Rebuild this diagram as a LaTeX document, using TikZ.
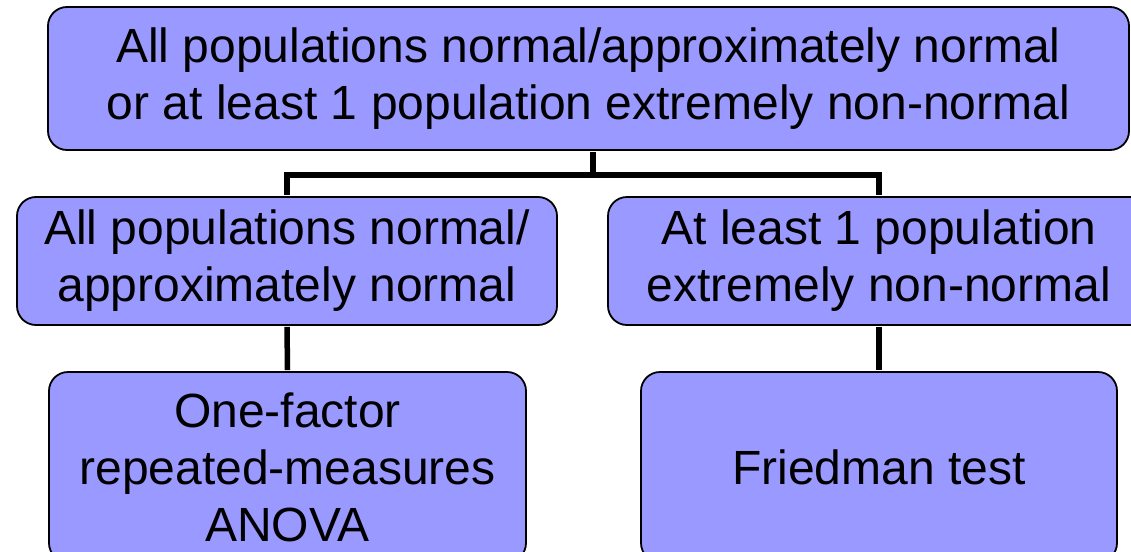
\documentclass[tikz,border=0pt]{standalone}
\usepackage{fontspec}
\setmainfont{Liberation Sans}
\begin{document}
\begin{tikzpicture}[x=1pt,y=-1pt,
  box/.style={draw=black, line width=1.8pt, fill=boxfill, rounded corners=19pt,
    inner sep=0pt, align=center, font=\fontsize{48}{57}\selectfont},
  conn/.style={draw=black, line width=5.5pt}]
\definecolor{boxfill}{HTML}{9999FF}
\useasboundingbox (0,0) rectangle (1131,551);
\clip (0,0) rectangle (1131,551);
\node[box, minimum width=1081pt, minimum height=143pt] (top) at (588.5,78.5)
  {All populations normal/approximately normal\\or at least 1 population extremely non-normal};
\node[box, minimum width=540pt, minimum height=128pt] (ml) at (287,261)
  {All populations normal/\\approximately normal};
\node[box, minimum width=542pt, minimum height=128pt] (mr) at (879,261)
  {At least 1 population\\extremely non-normal};
\node[box, minimum width=477pt, minimum height=190pt] (bl) at (287.5,467)
  {One-factor\\repeated-measures\\ANOVA};
\node[box, minimum width=476pt, minimum height=190pt] (br) at (879,467)
  {Friedman test};
\coordinate (split) at ([xshift=4.5pt,yshift=-24pt]top.south);
\draw[conn] ([xshift=4.5pt,yshift=-0.9pt]top.south) -- (split);
\draw[conn] (split) -| ([yshift=0.9pt]ml.north);
\draw[conn] (split) -| ([yshift=0.9pt]mr.north);
\draw[conn] ([yshift=-0.9pt]ml.south) -- ([yshift=0.9pt]bl.north);
\draw[conn] ([yshift=-0.9pt]mr.south) -- ([yshift=0.9pt]br.north);
\end{tikzpicture}
\end{document}
